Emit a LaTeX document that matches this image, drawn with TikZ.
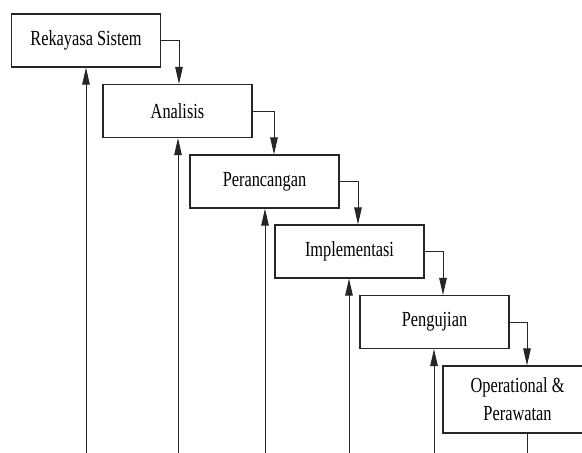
\documentclass[tikz,border=0pt]{standalone}
\usepackage{fontspec}
\setmainfont{Liberation Serif}[FakeStretch=0.76]
\usetikzlibrary{arrows.meta}
\begin{document}
\begin{tikzpicture}[x=1pt,y=-1pt,
  stage/.style={draw=black!85, line width=1.1pt, fill=white, rectangle,
    minimum width=149pt, minimum height=53pt, inner sep=0pt, align=center,
    font=\fontsize{21.5}{28}\selectfont},
  arr/.style={draw=black!85, line width=1pt, -{Triangle[length=17pt,width=7.5pt]}},
  ln/.style={draw=black!85, line width=1pt}]
\useasboundingbox (0,0) rectangle (582,453);
\clip (0,0) rectangle (582,453);
\node[stage] (b1) at (86,40.5) {Rekayasa Sistem};
\node[stage] (b2) at (177.5,111) {Analisis};
\node[stage] (b3) at (264.5,181.5) {Perancangan};
\node[stage] (b4) at (349.5,251.5) {Implementasi};
\node[stage] (b5) at (434.5,322) {Pengujian};
\node[stage, minimum height=67pt] (b6) at (517.5,399.5) {Operational \&\\Perawatan};
% down connectors
\coordinate (d1) at (179,0);
\coordinate (d2) at (274,0);
\coordinate (d3) at (358,0);
\coordinate (d4) at (443,0);
\coordinate (d5) at (527,0);
\draw[arr] (b1.east) -| (b2.north -| d1);
\draw[arr] (b2.east) -| (b3.north -| d2);
\draw[arr] (b3.east) -| (b4.north -| d3);
\draw[arr] (b4.east) -| (b5.north -| d4);
\draw[arr] (b5.east) -| (b6.north -| d5);
% upward feedback lines
\coordinate (u1) at (86,453);
\coordinate (u2) at (178,453);
\coordinate (u3) at (265,453);
\coordinate (u4) at (349,453);
\coordinate (u5) at (434,453);
\coordinate (u6) at (527,453);
\draw[arr] (u1) -- (u1 |- b1.south);
\draw[arr] (u2) -- (u2 |- b2.south);
\draw[arr] (u3) -- (u3 |- b3.south);
\draw[arr] (u4) -- (u4 |- b4.south);
\draw[arr] (u5) -- (u5 |- b5.south);
\draw[ln] (u6 |- b6.south) -- (u6);
\end{tikzpicture}
\end{document}
